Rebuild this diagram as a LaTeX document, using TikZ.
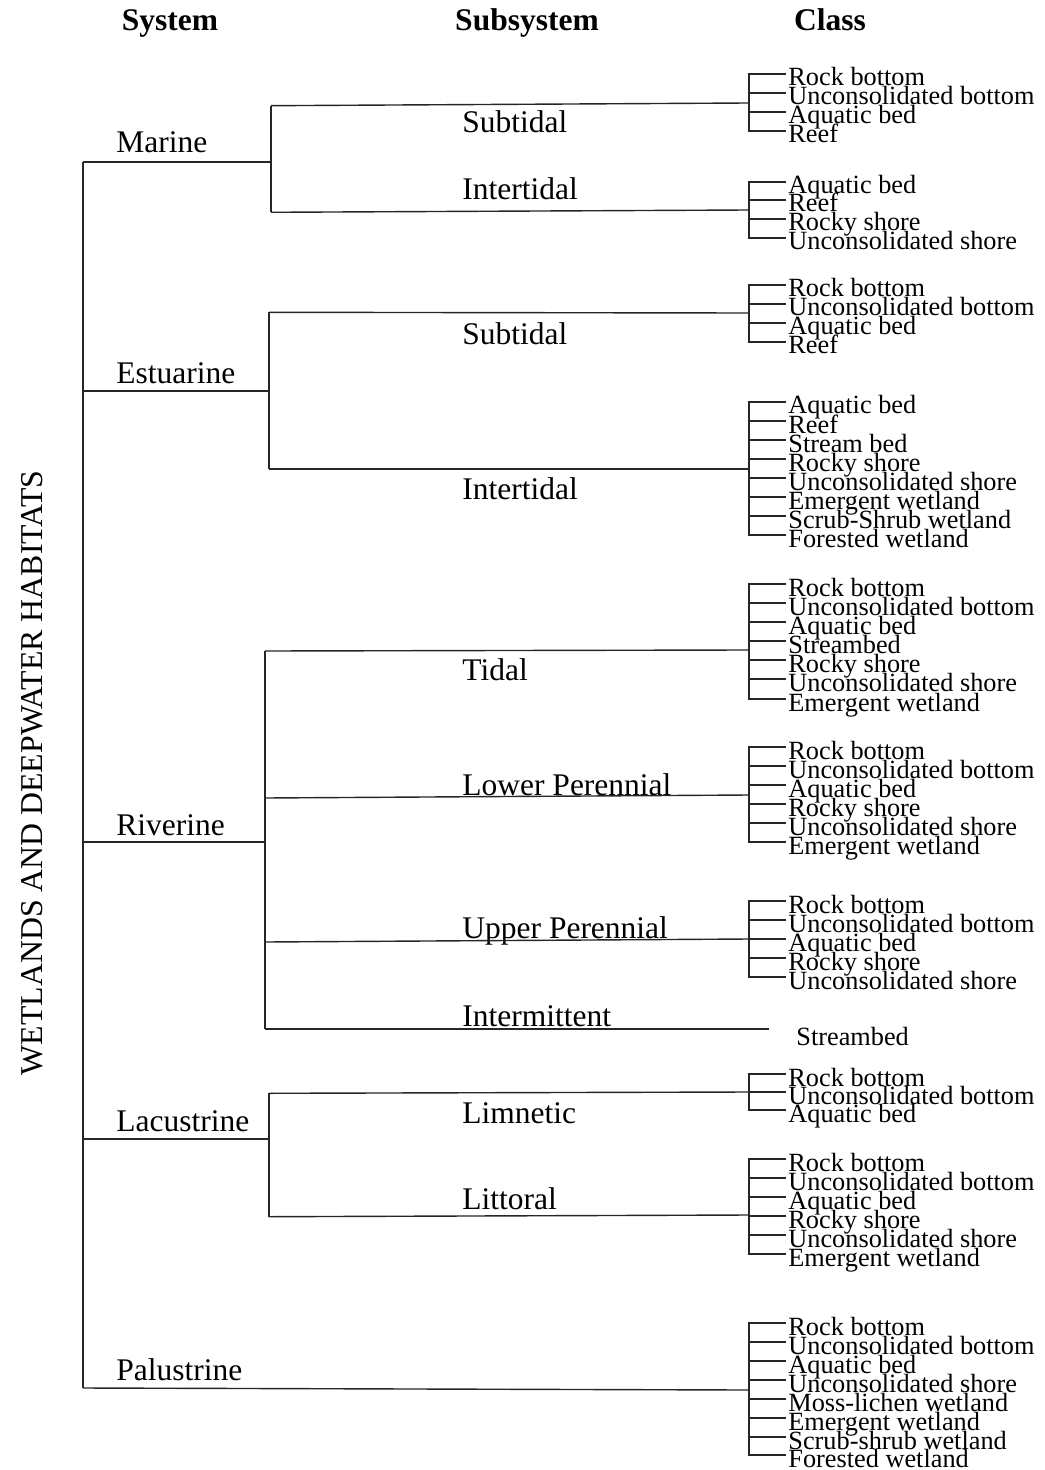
\documentclass[tikz,border=0pt]{standalone}
\usepackage{fontspec}
\setmainfont{Liberation Serif}
\usetikzlibrary{graphs}
\tikzset{
    tree/.style={line width=0.7pt, black!85},
    head/.style={font=\fontsize{15.75}{18}\selectfont\bfseries, anchor=base, inner sep=0pt},
    sys/.style={font=\fontsize{15.75}{18}\selectfont, anchor=base west, inner sep=0pt},
    cls/.style={font=\fontsize{13.15}{15}\selectfont, anchor=west, inner xsep=1pt,
        inner ysep=0pt, text height=13pt, text depth=1pt},
}

\begin{document}
\begin{tikzpicture}[x=0.5pt, y=-0.5pt]
            \useasboundingbox (0,0) rectangle (1044,1470);

            \node[head] (hsys) at (170,31) {System};
            \node[head] (hsub) at (527,31) {Subsystem};
            \node[head] (hcls) at (830,31) {Class};
            \node[font=\fontsize{15.9}{18}\selectfont, rotate=90, anchor=base, inner sep=0pt]
                (title) at (42,773) {WETLANDS AND DEEPWATER HABITATS};

            \node[sys] (marine) at (116,152.7) {Marine};
            \node[sys] (estuarine) at (116,383.3) {Estuarine};
            \node[sys] (riverine) at (116,835) {Riverine};
            \node[sys] (lacustrine) at (116,1131.7) {Lacustrine};
            \node[sys] (palustrine) at (116,1380.7) {Palustrine};

            \node[sys] (msub) at (462,133) {Subtidal};
            \node[sys] (mint) at (462,200) {Intertidal};
            \node[sys] (esub) at (462,345) {Subtidal};
            \node[sys] (eint) at (462,499) {Intertidal};
            \node[sys] (rtid) at (462,680) {Tidal};
            \node[sys] (rlow) at (462,795) {Lower Perennial};
            \node[sys] (rupp) at (462,938) {Upper Perennial};
            \node[sys] (rint) at (462,1026) {Intermittent};
            \node[sys] (llim) at (462,1123) {Limnetic};
            \node[sys] (llit) at (462,1209) {Littoral};

            \coordinate (mj) at (83,162);
            \coordinate (ej) at (83,391);
            \coordinate (rj) at (83,842);
            \coordinate (lj) at (83,1139);
            \coordinate (pj) at (83,1388);

            \coordinate (ma) at (271,162);
            \coordinate (mat) at (271,105.7);
            \coordinate (mab) at (271,212.3);
            \coordinate (ea) at (269,391);
            \coordinate (eat) at (269,312.3);
            \coordinate (eab) at (269,469);
            \coordinate (ra) at (265,842);
            \coordinate (rat) at (265,651);
            \coordinate (rlp) at (265,798);
            \coordinate (rup) at (265,942);
            \coordinate (rab) at (265,1029);
            \coordinate (la) at (269,1139);
            \coordinate (lat) at (269,1093.3);
            \coordinate (lab) at (269,1216.7);

            \coordinate (msj) at (749,103);
            \coordinate (mij) at (749,210);
            \coordinate (esj) at (749,313);
            \coordinate (eij) at (749,469);
            \coordinate (rtj) at (749,650);
            \coordinate (rlj) at (749,795);
            \coordinate (ruj) at (749,939);
            \coordinate (rij) at (769,1029);
            \coordinate (lmj) at (749,1092);
            \coordinate (ltj) at (749,1215);
            \coordinate (pcj) at (749,1390);

            \node[cls] (ms1) at (786,74) {Rock bottom};
            \node[cls] (ms2) at (786,93) {Unconsolidated bottom};
            \node[cls] (ms3) at (786,112) {Aquatic bed};
            \node[cls] (ms4) at (786,131) {Reef};

            \node[cls] (mi1) at (786,182) {Aquatic bed};
            \node[cls] (mi2) at (786,200) {Reef};
            \node[cls] (mi3) at (786,219) {Rocky shore};
            \node[cls] (mi4) at (786,238) {Unconsolidated shore};

            \node[cls] (es1) at (786,285) {Rock bottom};
            \node[cls] (es2) at (786,304) {Unconsolidated bottom};
            \node[cls] (es3) at (786,323) {Aquatic bed};
            \node[cls] (es4) at (786,342) {Reef};

            \node[cls] (ei1) at (786,402) {Aquatic bed};
            \node[cls] (ei2) at (786,421) {Reef};
            \node[cls] (ei3) at (786,440) {Stream bed};
            \node[cls] (ei4) at (786,459) {Rocky shore};
            \node[cls] (ei5) at (786,478) {Unconsolidated shore};
            \node[cls] (ei6) at (786,497) {Emergent wetland};
            \node[cls] (ei7) at (786,516) {Scrub-Shrub wetland};
            \node[cls] (ei8) at (786,535) {Forested wetland};

            \node[cls] (rt1) at (786,584) {Rock bottom};
            \node[cls] (rt2) at (786,603) {Unconsolidated bottom};
            \node[cls] (rt3) at (786,622) {Aquatic bed};
            \node[cls] (rt4) at (786,641) {Streambed};
            \node[cls] (rt5) at (786,660) {Rocky shore};
            \node[cls] (rt6) at (786,679) {Unconsolidated shore};
            \node[cls] (rt7) at (786,699) {Emergent wetland};

            \node[cls] (rl1) at (786,747) {Rock bottom};
            \node[cls] (rl2) at (786,766) {Unconsolidated bottom};
            \node[cls] (rl3) at (786,785) {Aquatic bed};
            \node[cls] (rl4) at (786,804) {Rocky shore};
            \node[cls] (rl5) at (786,823) {Unconsolidated shore};
            \node[cls] (rl6) at (786,842) {Emergent wetland};

            \node[cls] (ru1) at (786,901) {Rock bottom};
            \node[cls] (ru2) at (786,920) {Unconsolidated bottom};
            \node[cls] (ru3) at (786,939) {Aquatic bed};
            \node[cls] (ru4) at (786,958) {Rocky shore};
            \node[cls] (ru5) at (786,977) {Unconsolidated shore};

            \node[cls] (ri1) at (794,1033) {Streambed};

            \node[cls] (lm1) at (786,1074) {Rock bottom};
            \node[cls] (lm2) at (786,1092) {Unconsolidated bottom};
            \node[cls] (lm3) at (786,1110) {Aquatic bed};

            \node[cls] (lt1) at (786,1159) {Rock bottom};
            \node[cls] (lt2) at (786,1178) {Unconsolidated bottom};
            \node[cls] (lt3) at (786,1197) {Aquatic bed};
            \node[cls] (lt4) at (786,1216) {Rocky shore};
            \node[cls] (lt5) at (786,1235) {Unconsolidated shore};
            \node[cls] (lt6) at (786,1254) {Emergent wetland};

            \node[cls] (pc1) at (786,1323) {Rock bottom};
            \node[cls] (pc2) at (786,1342) {Unconsolidated bottom};
            \node[cls] (pc3) at (786,1361) {Aquatic bed};
            \node[cls] (pc4) at (786,1380) {Unconsolidated shore};
            \node[cls] (pc5) at (786,1399) {Moss-lichen wetland};
            \node[cls] (pc6) at (786,1418) {Emergent wetland};
            \node[cls] (pc7) at (786,1437) {Scrub-shrub wetland};
            \node[cls] (pc8) at (786,1455) {Forested wetland};

            \graph[use existing nodes, edges={tree}] {
                mj -- ej -- rj -- lj -- pj;
                mj -- ma; ej -- ea; rj -- ra; lj -- la; pj -- pcj;
                mat -- ma -- mab; eat -- ea -- eab;
                rat -- ra -- rab; lat -- la -- lab;
                mat -- msj; mab -- mij; eat -- esj; eab -- eij;
                rat -- rtj; rlp -- rlj; rup -- ruj; rab -- rij;
                lat -- lmj; lab -- ltj;
            };

            \draw[tree] (msj) |- (ms1.west) (msj) |- (ms2.west) (msj) |- (ms3.west) (msj) |- (ms4.west);
            \draw[tree] (mij) |- (mi1.west) (mij) |- (mi2.west) (mij) |- (mi3.west) (mij) |- (mi4.west);
            \draw[tree] (esj) |- (es1.west) (esj) |- (es2.west) (esj) |- (es3.west) (esj) |- (es4.west);
            \draw[tree] (eij) |- (ei1.west) (eij) |- (ei2.west) (eij) |- (ei3.west) (eij) |- (ei4.west)
                (eij) |- (ei5.west) (eij) |- (ei6.west) (eij) |- (ei7.west) (eij) |- (ei8.west);
            \draw[tree] (rtj) |- (rt1.west) (rtj) |- (rt2.west) (rtj) |- (rt3.west) (rtj) |- (rt4.west)
                (rtj) |- (rt5.west) (rtj) |- (rt6.west) (rtj) |- (rt7.west);
            \draw[tree] (rlj) |- (rl1.west) (rlj) |- (rl2.west) (rlj) |- (rl3.west)
                (rlj) |- (rl4.west) (rlj) |- (rl5.west) (rlj) |- (rl6.west);
            \draw[tree] (ruj) |- (ru1.west) (ruj) |- (ru2.west) (ruj) |- (ru3.west)
                (ruj) |- (ru4.west) (ruj) |- (ru5.west);
            \draw[tree] (lmj) |- (lm1.west) (lmj) |- (lm2.west) (lmj) |- (lm3.west);
            \draw[tree] (ltj) |- (lt1.west) (ltj) |- (lt2.west) (ltj) |- (lt3.west)
                (ltj) |- (lt4.west) (ltj) |- (lt5.west) (ltj) |- (lt6.west);
            \draw[tree] (pcj) |- (pc1.west) (pcj) |- (pc2.west) (pcj) |- (pc3.west) (pcj) |- (pc4.west)
                (pcj) |- (pc5.west) (pcj) |- (pc6.west) (pcj) |- (pc7.west) (pcj) |- (pc8.west);
        \end{tikzpicture}
\end{document}
